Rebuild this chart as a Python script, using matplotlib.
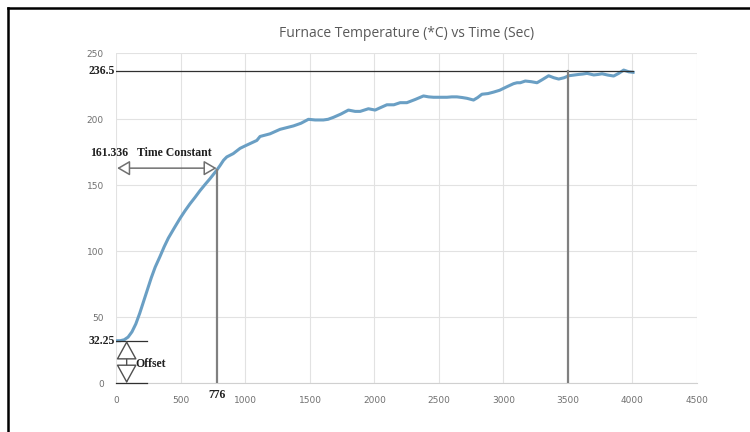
import matplotlib.pyplot as plt
from matplotlib.lines import Line2D
from matplotlib.patches import FancyArrowPatch

# furnace step response
time_s = [0, 30, 60, 90, 120, 150, 180, 210, 240, 270, 300, 337, 370, 402, 450,
          493, 530, 570, 610, 648, 690, 725, 776, 803, 830,
          855, 905, 958, 1000, 1088, 1113, 1190, 1268, 1372, 1430, 1488, 1540,
          1604, 1640, 1682, 1740, 1798, 1850, 1889, 1953, 2005, 2050, 2096, 2150,
          2199, 2251, 2315, 2380, 2420, 2458, 2520, 2562, 2600, 2639, 2680, 2717,
          2768, 2800, 2833, 2880, 2923, 2970, 3027, 3078, 3105, 3130, 3169, 3215,
          3260, 3300, 3350, 3390, 3428, 3470, 3506, 3545, 3583, 3615, 3648, 3700,
          3735, 3764, 3810, 3854, 3893, 3932, 3971, 4005]
temp_c = [32.25, 32.3, 33, 35, 39, 45, 53, 62, 71, 80, 88, 96, 103.5, 110, 118,
          125, 130.5, 136, 141, 146, 151, 155, 161.3, 165, 169,
          171.5, 174, 178, 180, 184, 187, 189, 192.4, 195, 197, 200, 199.5,
          199.5, 200, 201.5, 204, 207, 206, 206, 208, 207, 209, 211, 211,
          212.6, 212.6, 215, 217.7, 217, 216.7, 216.7, 216.7, 217, 217, 216.5, 215.9,
          214.6, 216.5, 219, 219.5, 220.6, 222, 224.7, 227, 227.7, 227.7, 229, 228.5,
          227.7, 230, 233, 231.5, 230.5, 231.5, 233, 233.5, 234, 234.3, 234.8, 233.6,
          234, 234.5, 233.5, 232.8, 234.8, 237.3, 236, 235.6]

x_ticks = [0, 500, 1000, 1500, 2000, 2500, 3000, 3500, 4000, 4500]
y_ticks = [0, 50, 100, 150, 200, 250]

offset = 32.25
final_temp = 236.5
tc_temp = 161.336
tc_time = 776
settle_time = 3500
line_end = 4005

fig = plt.figure(figsize=(7.5, 4.32), dpi=100)
ax = fig.add_axes([0.1553, 0.1127, 0.774, 0.7639])

ax.plot(time_s, temp_c, color='#6a9fc4', lw=2.2, zorder=3)

ax.set_xlim(0, 4500)
ax.set_ylim(0, 250)
ax.set_xticks(x_ticks)
ax.set_yticks(y_ticks)
ax.grid(True, color='#e2e2e2', lw=0.8)
ax.set_axisbelow(True)
for s in ['top', 'right', 'left']:
    ax.spines[s].set_visible(False)
ax.spines['bottom'].set_color('#d0d0d0')
ax.tick_params(length=0, labelsize=6.5, labelcolor='#707070', pad=9)
ax.set_title('Furnace Temperature (*C) vs Time (Sec)', fontsize=10,
             color='#595959', family='Open Sans', pad=12)

bold = dict(family='Liberation Serif', weight='bold', color='#202020', fontsize=8.5)

# final value
ax.plot([0, line_end], [final_temp, final_temp], color='#303030', lw=0.9, zorder=4)
ax.plot([settle_time, settle_time], [0, final_temp], color='#808080', lw=1.6, zorder=4)
ax.text(-12, final_temp, '236.5', ha='right', va='center', clip_on=False, **bold)

# time constant
ax.plot([tc_time, tc_time], [0, tc_temp], color='#808080', lw=1.6, zorder=4)
ax.add_patch(FancyArrowPatch((5, 163), (tc_time, 163),
                             arrowstyle='<|-|>,head_length=0.6,head_width=0.35',
                             mutation_scale=13, fc='white', ec='#707070', lw=1.1,
                             zorder=5, shrinkA=0, shrinkB=0))
ax.text(-60, 170, '161.336', ha='center', va='bottom', clip_on=False, **bold)
ax.text(160, 170, 'Time Constant', ha='left', va='bottom', **bold)
ax.text(tc_time, -4.5, '776', ha='center', va='top', clip_on=False, **bold)

# offset
ax.plot([0, 234], [offset, offset], color='#303030', lw=0.9, zorder=4)
ax.plot([0, 234], [0, 0], color='#303030', lw=0.9, zorder=4, clip_on=False)
ax.add_patch(FancyArrowPatch((79, 0), (79, offset),
                             arrowstyle='<|-|>,head_length=0.6,head_width=0.33',
                             mutation_scale=20, fc='white', ec='#505050', lw=1.0,
                             zorder=5, shrinkA=0, shrinkB=0, clip_on=False))
ax.text(-12, offset, '32.25', ha='right', va='center', clip_on=False, **bold)
ax.text(150, 15, 'Offset', ha='left', va='center', **bold)

# partial outer frame
fig.add_artist(Line2D([0.0107, 1], [0.9815, 0.9815], color='black', lw=1.8))
fig.add_artist(Line2D([0.0107, 0.0107], [0, 0.9815], color='black', lw=1.8))

fig.savefig('out.png', dpi=100)
